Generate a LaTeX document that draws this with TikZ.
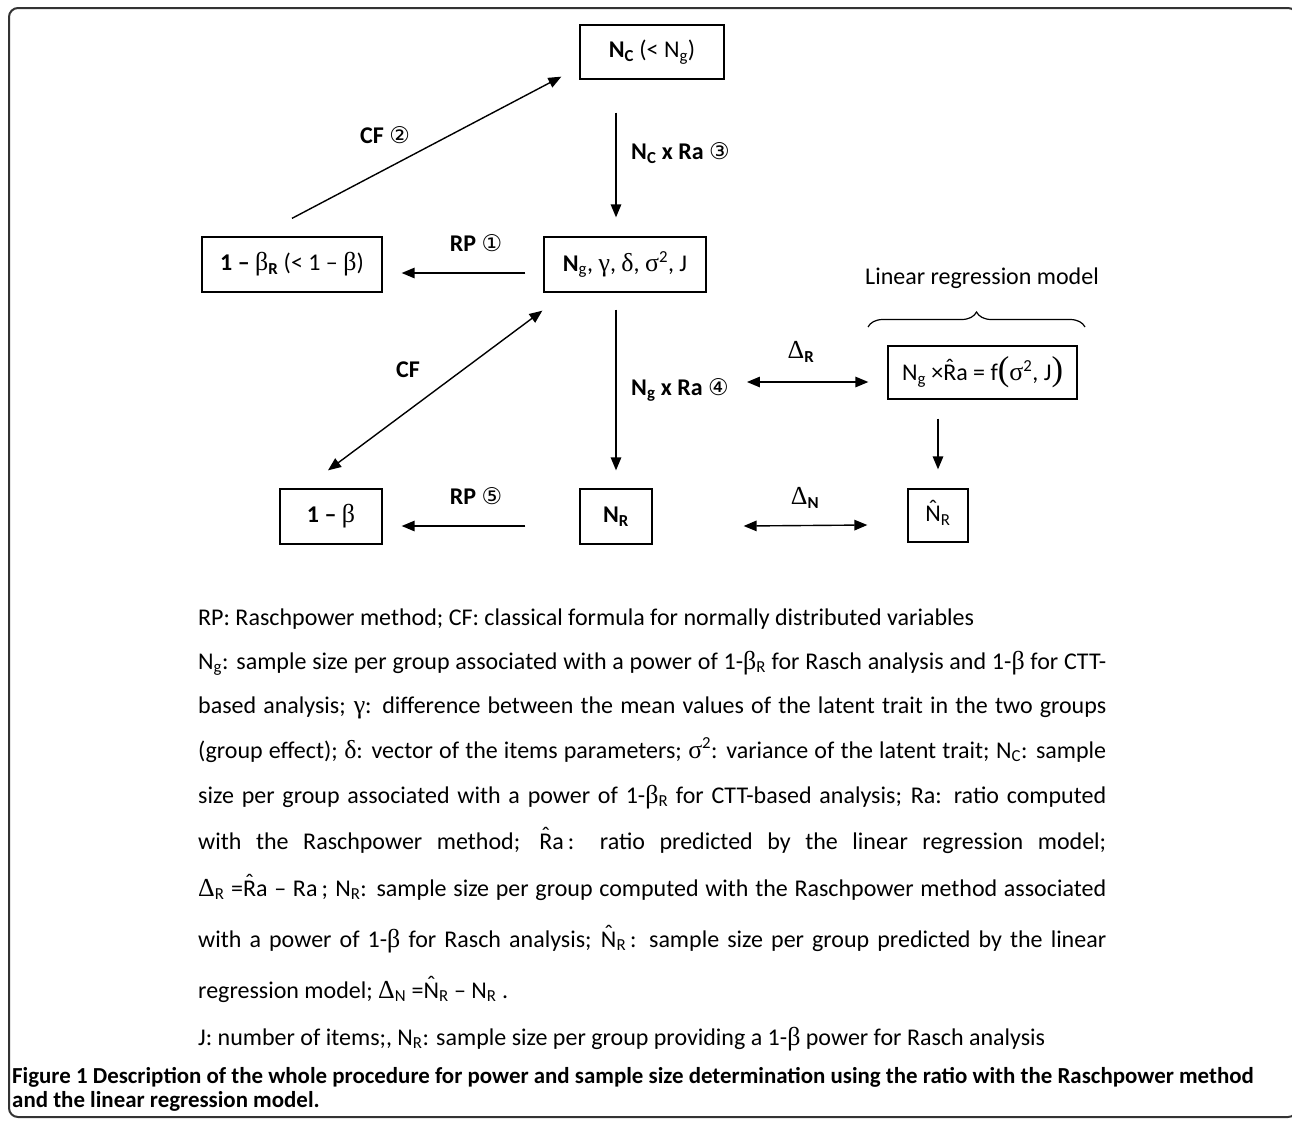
\documentclass[tikz,border=0pt]{standalone}
\usepackage{fontspec}
\setmainfont{Carlito}
\newfontfamily\grf{Liberation Serif}[Scale=1.08]
\newfontfamily\dvf{DejaVu Sans}
\usetikzlibrary{arrows.meta,decorations.pathreplacing,calc}
\newcommand\Gb{{\grf β}}
\newcommand\Gg{{\grf γ}}
\newcommand\Gd{{\grf δ}}
\newcommand\Gs{{\grf σ}}
\newcommand\GD{{\grf Δ}}
\newcommand\circnum[1]{{\dvf\mdseries\fontsize{23}{23}\selectfont #1}}
\newcommand\sub[1]{\textsubscript{#1}}
\newcommand\jline[1]{\makebox[908pt][s]{#1}}
\newcommand\bigp[1]{{\grf\fontsize{32}{32}\selectfont #1}}
\newcommand\hatc[1]{{\ooalign{#1\cr\hidewidth\raisebox{0.22em}{\mdseries ˆ}\hidewidth\cr}}}
\begin{document}
\begin{tikzpicture}[x=1pt,y=-1pt,
  box/.style={draw, line width=1.3pt, inner sep=0pt, font=\fontsize{24}{24}\selectfont},
  arr/.style={line width=1.4pt, -{Triangle[length=13pt,width=10.5pt]}},
  darr/.style={line width=1.4pt, {Triangle[length=13pt,width=10.5pt]}-{Triangle[length=13pt,width=10.5pt]}},
  lab/.style={font=\fontsize{24}{24}\selectfont\bfseries, inner sep=0pt},
  body/.style={anchor=base west, inner sep=0pt, font=\fontsize{24}{24}\selectfont},
  capt/.style={anchor=base west, inner sep=0pt, font=\fontsize{22.9}{22.9}\selectfont\bfseries}]

\useasboundingbox (0,0) rectangle (1292,1120);
\fill[white] (0,0) rectangle (1292,1120);
\draw[line width=2pt, black!80, rounded corners=9pt] (9,8) rectangle (1297,1117);

% boxes
\node[box, minimum width=144pt, minimum height=54pt] (nc) at (652,52) {\textbf{N\sub{C}} (< N\sub{g})};
\node[box, minimum width=162pt, minimum height=55pt] (ng) at (625,264.5) {\textbf{N}\sub{g}, \Gg, \Gd, \Gs\textsuperscript{2}, J};
\node[box, minimum width=180pt, minimum height=55pt] (b1) at (292,264.5) {\textbf{1 –} \Gb\sub{\textbf{R}} (< 1 – \Gb)};
\node[box, minimum width=102pt, minimum height=55pt] (b2) at (331,516.5) {\textbf{1 –} \Gb};
\node[box, minimum width=72pt, minimum height=55pt] (nr) at (616,516.5) {\textbf{N\sub{R}}};
\node[box, minimum width=60pt, minimum height=53pt] (nrh) at (938,515.5) {\hatc{N}\sub{R}};
\node[box, minimum width=189pt, minimum height=53pt] (reg) at (982.5,372.5) {N\sub{g} ×\hatc{R}a = f\bigp{(}\Gs\textsuperscript{2}, J\bigp{)}};

% labels
\node[lab] (l2) at (385,135) {CF \circnum{②}};
\node[lab, anchor=west] (l3) at (631,153) {N\sub{C} x Ra \circnum{③}};
\node[lab] (l1) at (476,243) {RP \circnum{①}};
\node[lab] (lcf) at (408,370) {CF};
\node[lab, anchor=west] (l4) at (631,390) {N\sub{g} x Ra \circnum{④}};
\node[lab] (l5) at (476,496) {RP \circnum{⑤}};
\node[lab] (dr) at (801,352) {{\mdseries\GD}\sub{R}};
\node[lab] (dn) at (805,498) {{\mdseries\GD}\sub{N}};
\node[font=\fontsize{24}{24}\selectfont, inner sep=0pt] (lrm) at (982,278) {Linear regression model};

% connectors
\draw[arr, shorten <=33pt, shorten >=19pt] (nc.south -| nr.north) -- (ng.north -| nr.north);
\draw[arr, shorten <=17pt, shorten >=18pt] (ng.south -| nr.north) -- (nr.north);
\draw[arr] ($(ng.west)+(-18,8.5)$) -- ($(b1.east)+(19,8.5)$);
\draw[arr] ($(nr.west)+(-54,9.5)$) -- ($(b2.east)+(19,9.5)$);
\draw[darr] ($(nr.east)+(91,9.5)$) -- ($(nrh.west)+(-40,9.5)$);
\draw[darr] ($(l4.east |- reg.west)+(18,9.5)$) -- ($(reg.west)+(-19,9.5)$);
\draw[arr, shorten <=19pt, shorten >=19pt] (reg.south -| nrh.north) -- (nrh.north);
\draw[arr] ($(b1.north)+(0,-18)$) -- ($(nc.south west)+(-18,-3)$);
\draw[darr] ($(b2.north)+(-3,-18)$) -- ($(ng.south west)+(-1,18)$);
\draw[line width=1.2pt, decorate, decoration={brace, amplitude=15pt}] (868,327) -- (1085,327);

% legend text
\node[body] (t0) at (198,625) {RP: Raschpower method; CF: classical formula for normally distributed variables};
\node[body] (t1) at (198,669) {\jline{N\sub{g}: sample size per group associated with a power of 1-\Gb\sub{R} for Rasch analysis and 1-\Gb{} for CTT-}};
\node[body] (t2) at (198,713) {\jline{based analysis; \Gg: difference between the mean values of the latent trait in the two groups}};
\node[body] (t3) at (198,758) {\jline{(group effect); \Gd: vector of the items parameters; \Gs\textsuperscript{2}: variance of the latent trait; N\sub{C}: sample}};
\node[body] (t4) at (198,803) {\jline{size per group associated with a power of 1-\Gb\sub{R} for CTT-based analysis; Ra: ratio computed}};
\node[body] (t5) at (198,849) {\jline{with the Raschpower method; \hatc{R}a\,: ratio predicted by the linear regression model;}};
\node[body] (t6) at (198,896) {\jline{\GD\sub{R} =\hatc{R}a – Ra\,; N\sub{R}: sample size per group computed with the Raschpower method associated}};
\node[body] (t7) at (198,947) {\jline{with a power of 1-\Gb{} for Rasch analysis; \hatc{N}\sub{R}\,: sample size per group predicted by the linear}};
\node[body] (t8) at (198,998) {regression model; \GD\sub{N} =\hatc{N}\sub{R} – N\sub{R} .};
\node[body] (t9) at (198,1045) {J: number of items;, N\sub{R}: sample size per group providing a 1-\Gb{} power for Rasch analysis};

% caption
\node[capt] (c1) at (12,1083) {Figure 1 Description of the whole procedure for power and sample size determination using the ratio with the Raschpower method};
\node[capt] (c2) at (12,1107) {and the linear regression model.};
\end{tikzpicture}
\end{document}
